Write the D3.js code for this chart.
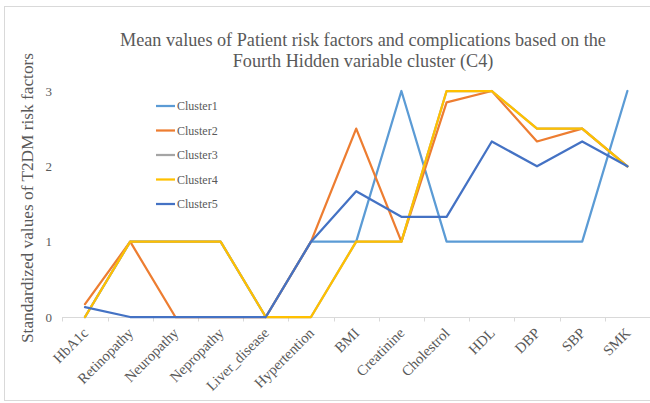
<!DOCTYPE html>
<html><head><meta charset="utf-8">
<script src="https://cdn.jsdelivr.net/npm/d3@7"></script>
<style>body{margin:0;background:#fff}svg{display:block}</style>
</head><body>
<svg id="c" width="650" height="403"></svg>
<script>
const categories = ["HbA1c","Retinopathy","Neuropathy","Nepropathy","Liver_disease","Hypertention","BMI","Creatinine","Cholestrol","HDL","DBP","SBP","SMK"];
const seriesNames = ["Cluster1","Cluster2","Cluster3","Cluster4","Cluster5"];
const cluster1 = [0,1,1,1,0,1,1,3,1,1,1,1,3];
const cluster2 = [0.17,1,0,0,0,1,2.5,1,2.85,3,2.33,2.5,2];
const cluster3 = [0,1,1,1,0,0,1,1,3,3,2.5,2.5,2];
const cluster4 = [0,1,1,1,0,0,1,1,3,3,2.5,2.5,2];
const cluster5 = [0.13,0,0,0,0,1,1.67,1.33,1.33,2.33,2,2.33,2];
const yTicks = [0,1,2,3];
const colors = ["#5B9BD5","#ED7D31","#A5A5A5","#FFC000","#4472C4"];
const titleLines = ["Mean values of Patient risk factors and complications based on the","Fourth Hidden variable cluster (C4)"];
const yTitle = "Standardized values of T2DM risk factors";

const series = [cluster1,cluster2,cluster3,cluster4,cluster5];
const svg = d3.select("#c");
const font = "'Liberation Serif','Times New Roman',serif";
const txt = "#595959";

svg.append("rect").attr("x",4.5).attr("y",6.5).attr("width",680).attr("height",394)
  .attr("fill","#fff").attr("stroke","#D9D9D9").attr("stroke-width",1);

const x = d3.scaleBand().domain(categories).range([62.4,650]).paddingInner(0).paddingOuter(0);
const y = d3.scaleLinear().domain([0,3]).range([317,91]);
const cx = d => x(d) + x.bandwidth()/2;

// title
svg.append("g").selectAll("text").data(titleLines).join("text")
  .attr("x",363).attr("y",(d,i)=>46+i*21).attr("text-anchor","middle")
  .attr("font-family",font).attr("font-size",18.2).attr("fill",txt).text(d=>d);

// y title
svg.append("text").attr("transform","translate(33,198) rotate(-90)")
  .attr("text-anchor","middle").attr("font-family",font).attr("font-size",17.3)
  .attr("fill",txt).text(yTitle);

// y tick labels
svg.append("g").selectAll("text").data(yTicks).join("text")
  .attr("x",52).attr("y",d=>y(d)+4.5).attr("text-anchor","end")
  .attr("font-family",font).attr("font-size",13).attr("fill",txt).text(d=>d);

// x axis
const xa = svg.append("g");
xa.append("line").attr("x1",62.4).attr("x2",650).attr("y1",317.5).attr("y2",317.5)
  .attr("stroke","#D9D9D9").attr("stroke-width",1);
const bounds = categories.map(c=>x(c)).concat([650]);
xa.selectAll("line.t").data(bounds).join("line").attr("class","t")
  .attr("x1",d=>Math.round(d)+0.5).attr("x2",d=>Math.round(d)+0.5).attr("y1",317).attr("y2",321.5)
  .attr("stroke","#D9D9D9").attr("stroke-width",1);
xa.selectAll("text").data(categories).join("text")
  .attr("transform",d=>`translate(${cx(d)+4},${334}) rotate(-45)`)
  .attr("text-anchor","end")
  .attr("font-family",font).attr("font-size",14.67).attr("fill",txt).text(d=>d);

// lines
const line = d3.line().x((d,i)=>cx(categories[i])).y(d=>y(d));
svg.append("g").selectAll("path").data(series).join("path")
  .attr("d",d=>line(d)).attr("fill","none")
  .attr("stroke",(d,i)=>colors[i]).attr("stroke-width",2.25)
  .attr("stroke-linejoin","round").attr("stroke-linecap","round");

// legend
const lg = svg.append("g").selectAll("g").data(seriesNames).join("g")
  .attr("transform",(d,i)=>`translate(156,${106+i*24.5})`);
lg.append("line").attr("x1",0).attr("x2",19).attr("y1",0).attr("y2",0)
  .attr("stroke",(d,i)=>colors[i]).attr("stroke-width",2.25);
lg.append("text").attr("x",21).attr("y",4.2).attr("font-family",font)
  .attr("font-size",12).attr("fill",txt).text(d=>d);
</script>
</body></html>
